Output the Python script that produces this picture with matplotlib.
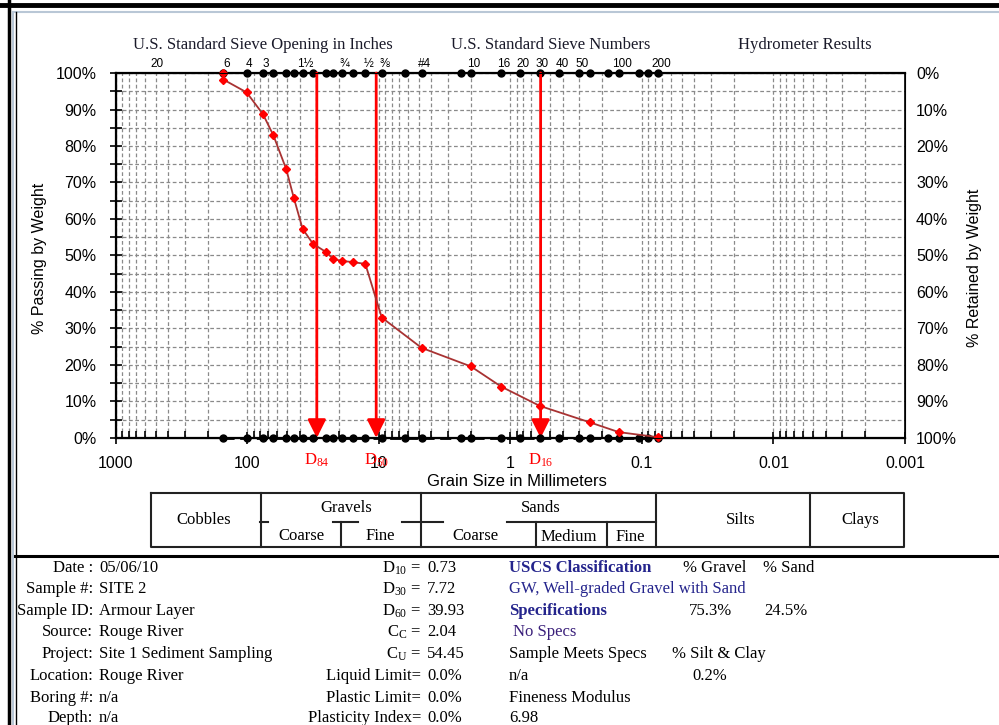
import matplotlib
matplotlib.use("Agg")
import matplotlib.pyplot as plt
import numpy as np

plt.rcParams["font.family"] = ["Liberation Sans", "DejaVu Sans"]
plt.rcParams["mathtext.fontset"] = "custom"
plt.rcParams["mathtext.rm"] = "Liberation Serif"
plt.rcParams["mathtext.it"] = "Liberation Serif:italic"

SERIF = ["Liberation Serif", "DejaVu Serif"]
NAVY = "#24248c"

# sieve stack (mm)
sieve_mm = [152.4, 101.6, 76.2, 63.5, 50.8, 44.45, 38.1, 31.75, 25.4, 22.2,
            19.05, 15.9, 12.7, 9.525, 6.35, 4.75, 2.36, 2.0, 1.18, 0.85,
            0.6, 0.425, 0.3, 0.25, 0.18, 0.15, 0.106, 0.09, 0.075]

# gradation curve
grain_mm = [152.4, 152.4, 101.6, 76.2, 63.5, 50.8, 44.45, 38.1, 31.75, 25.4,
            22.2, 19.05, 15.9, 12.7, 9.525, 4.75, 2.0, 1.18, 0.6, 0.25,
            0.15, 0.075]
passing = [100, 98.2, 94.7, 88.7, 82.9, 73.7, 65.8, 57.3, 53.2, 51.0,
           49.0, 48.5, 48.2, 47.7, 33.0, 24.7, 19.6, 14.1, 8.8, 4.3,
           1.6, 0.2]

# sieve names along the top
top_label_mm = [508, 152.4, 101.6, 76.2, 38.1, 19.05, 12.7, 9.525, 4.75,
                2.0, 1.18, 0.85, 0.6, 0.425, 0.3, 0.15, 0.075]
top_labels = ["20", "6", "4", "3", "1½", "¾", "½", "⅜", "#4",
              "10", "16", "20", "30", "40", "50", "100", "200"]

# characteristic diameters
d_names = ["84", "50", "16"]
d_mm = [29.7, 10.5, 0.59]

x_major = [1000, 100, 10, 1, 0.1, 0.01, 0.001]
x_major_labels = ["1000", "100", "10", "1", "0.1", "0.01", "0.001"]

fig = plt.figure(figsize=(9.99, 7.25), dpi=100)
ax = fig.add_axes([0.1161, 0.3959, 0.7898, 0.5034])
ax.set_xscale("log")
ax.set_xlim(1000, 0.001)
ax.set_ylim(0, 100)

minor = [k * 10.0 ** e for e in range(-3, 3) for k in range(2, 10)]
ax.set_xticks(x_major, x_major_labels)
ax.set_xticks(minor, minor=True)
ax.set_yticks(range(0, 101, 10), [f"{v}%" for v in range(0, 101, 10)])
ax.set_yticks(range(5, 100, 10), minor=True)

ax.grid(which="both", ls=(0, (3, 2)), color="#8a8a8a", lw=0.9)
ax.set_axisbelow(True)
ax.tick_params(axis="x", which="major", direction="inout", length=8, width=1.2,
               pad=9, labelsize=11.5)
ax.tick_params(axis="x", which="minor", direction="in", length=5, width=1.2)
ax.tick_params(axis="y", which="both", direction="inout", length=8, width=1.2,
               pad=10, labelsize=11.5)
for side in ["left", "bottom", "top"]:
    ax.spines[side].set_linewidth(1.6)
ax.spines["right"].set_linewidth(1.2)

ax2 = ax.twinx()
ax2.set_ylim(100, 0)
ax2.set_yticks(range(0, 101, 10), [f"{v}%" for v in range(0, 101, 10)])
ax2.tick_params(length=0, pad=8, labelsize=11.5)

# sieve marks on the top and bottom lines
ax.plot(sieve_mm, [100] * len(sieve_mm), "o", color="black", ms=5,
        clip_on=False, zorder=5)
ax.plot(sieve_mm, [0] * len(sieve_mm), "o", ls=(0, (4, 2)), color="black",
        ms=5, lw=2, clip_on=False, zorder=6)

for mm, lab in zip(top_label_mm, top_labels):
    ax.annotate(lab, (mm, 100), xytext=(2, 2), textcoords="offset points",
                ha="center", va="bottom", fontsize=8.5,
                family=["Liberation Sans", "DejaVu Sans"])

# gradation curve
ax.plot(grain_mm, passing, color="#a83232", lw=1.3, marker="D", ms=4.5,
        mfc="red", mec="red", clip_on=False, zorder=7)

for name, mm in zip(d_names, d_mm):
    ax.annotate("", xy=(mm, 0), xytext=(mm, 100),
                arrowprops=dict(arrowstyle="-|>,head_length=1.1,head_width=0.55",
                                color="red", lw=2, shrinkA=0, shrinkB=0),
                zorder=5)
    ax.annotate("D$_{" + name + "}$", (mm, 0), xytext=(0, -10),
                textcoords="offset points", ha="center", va="top",
                color="red", fontsize=12, family=SERIF)

fig.text(40 / 999, 1 - 258 / 725, "% Passing by Weight", rotation=90,
         ha="center", va="center", fontsize=11.5)
fig.text(975 / 999, 1 - 268 / 725, "% Retained by Weight", rotation=90,
         ha="center", va="center", fontsize=11.5)
fig.text(517 / 999, 1 - 481 / 725, "Grain Size in Millimeters",
         ha="center", va="center", fontsize=12)

# overlay in pixel units for headings, table and report block
ov = fig.add_axes([0, 0, 1, 1])
ov.set_xlim(0, 999)
ov.set_ylim(725, 0)
ov.axis("off")

for x, txt in [(263, "U.S. Standard Sieve Opening in Inches"),
               (551, "U.S. Standard Sieve Numbers"),
               (805, "Hydrometer Results")]:
    ov.text(x, 45, txt, ha="center", va="center", fontsize=12,
            family=SERIF, color="#1a1a2a")

# soil classification table
lw = 1.5
ov.plot([151, 904, 904, 151, 151], [493, 493, 547, 547, 493], color="#222", lw=lw)
for x in [261, 421, 656, 810]:
    ov.plot([x, x], [493, 547], color="#222", lw=lw)
for x in [341, 536, 607]:
    ov.plot([x, x], [522, 547], color="#222", lw=lw)
for x0, x1 in [(260, 268), (333, 358), (402, 443), (507, 656)]:
    ov.plot([x0, x1], [522, 522], color="#222", lw=lw)

for x, y, txt in [(204, 520, "Cobbles"), (346, 508, "Gravels"),
                  (301, 536, "Coarse"), (380, 536, "Fine"),
                  (541, 508, "Sands"), (475, 536, "Coarse"),
                  (569, 537, "Medium"), (630, 537, "Fine"),
                  (741, 520, "Silts"), (860, 520, "Clays")]:
    ov.text(x, y, txt, ha="center", va="center", fontsize=12, family=SERIF)

# frame
ov.plot([0, 999], [5, 5], color="black", lw=3.5)
ov.plot([9, 9], [0, 725], color="black", lw=2.5)
ov.plot([13, 13], [12, 725], color="#b9c7d6", lw=1.5)
ov.plot([13, 999], [12, 12], color="#b9c7d6", lw=1.5)
ov.plot([15.5, 15.5], [12, 725], color="black", lw=1)
ov.plot([15, 999], [556, 556], color="black", lw=2.2)

# report block
rows_y = [568, 589, 611, 632, 654, 676, 698, 718]
left_keys = ["Date :", "Sample #:", "Sample ID:", "Source:", "Project:",
             "Location:", "Boring #:", "Depth:"]
left_vals = ["05/06/10", "SITE 2", "Armour Layer", "Rouge River",
             "Site 1 Sediment Sampling", "Rouge River", "n/a", "n/a"]
mid_keys = ["D$_{10}$ =", "D$_{30}$ =", "D$_{60}$ =", "C$_\\mathrm{C}$ =",
            "C$_\\mathrm{U}$ =", "Liquid Limit=", "Plastic Limit=",
            "Plasticity Index="]
mid_vals = ["0.73", "7.72", "39.93", "2.04", "54.45", "0.0%", "0.0%", "0.0%"]

for y, k, v in zip(rows_y, left_keys, left_vals):
    ov.text(93, y, k, ha="right", va="center", fontsize=12, family=SERIF)
    ov.text(99, y, v, ha="left", va="center", fontsize=12, family=SERIF)
for y, k, v in zip(rows_y, mid_keys, mid_vals):
    ov.text(421, y, k, ha="right", va="center", fontsize=12, family=SERIF)
    ov.text(427, y, v, ha="left", va="center", fontsize=12, family=SERIF)

right_block = [
    (509, 568, "USCS Classification", NAVY, "bold"),
    (683, 568, "% Gravel", "black", "normal"),
    (763, 568, "% Sand", "black", "normal"),
    (509, 589, "GW, Well-graded Gravel with Sand", NAVY, "normal"),
    (509, 611, "Specifications", NAVY, "bold"),
    (689, 611, "75.3%", "black", "normal"),
    (764, 611, "24.5%", "black", "normal"),
    (513, 632, "No Specs", "#3a1f7a", "normal"),
    (509, 654, "Sample Meets Specs", "black", "normal"),
    (672, 654, "% Silt & Clay", "black", "normal"),
    (509, 676, "n/a", "black", "normal"),
    (692, 676, "0.2%", "black", "normal"),
    (509, 698, "Fineness Modulus", "black", "normal"),
    (509, 718, "6.98", "black", "normal"),
]
for x, y, txt, col, wt in right_block:
    ov.text(x, y, txt, ha="left", va="center", fontsize=12, family=SERIF,
            color=col, weight=wt)

fig.savefig("out.png", dpi=100)
